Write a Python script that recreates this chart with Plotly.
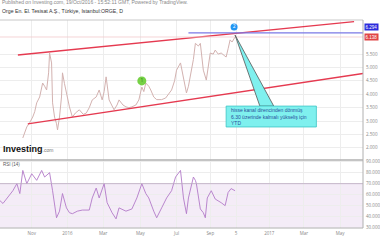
import plotly.graph_objects as go

# ---------------- data ----------------
bar = [23, 25, 27, 30, 33, 35, 37, 40, 43, 45, 47, 49, 50, 52, 53, 55, 57, 58, 60, 62,
       63, 65, 67, 70, 73, 76, 80, 84, 87, 90, 93, 97, 100, 103, 105, 107, 110, 113, 115, 118,
       120, 124, 127, 130, 133, 137, 140, 143, 145, 147, 150, 152, 155, 158, 160, 163, 167, 170, 173, 176,
       178, 182, 185, 188, 190, 192, 195, 197, 200, 202, 205, 208, 210, 212, 215, 217, 220, 223, 226, 228,
       230, 232, 234, 237]
price = [2.37, 2.55, 2.78, 2.95, 3.15, 3.35, 3.68, 3.90, 4.42, 4.30, 4.16, 4.80, 5.54, 5.17, 3.68, 3.15, 2.90, 2.67, 3.15, 3.90,
         4.80, 4.40, 4.05, 3.53, 3.15, 3.30, 3.42, 3.25, 3.30, 3.50, 3.79, 3.90, 4.16, 3.79, 4.10, 4.65, 3.79, 3.60, 3.42, 3.60,
         3.79, 3.60, 3.53, 3.50, 3.53, 3.60, 3.79, 4.27, 4.10, 4.42, 4.30, 4.16, 3.90, 3.80, 3.79, 3.80, 3.86, 4.00, 4.16, 4.50,
         4.90, 5.17, 4.53, 4.05, 4.30, 4.65, 5.30, 5.90, 5.80, 5.90, 4.90, 4.53, 5.00, 5.54, 5.50, 5.65, 5.50, 5.54, 5.45, 5.39,
         5.70, 6.03, 5.95, 6.138]

rsi_bar = [0, 3, 13, 17, 20, 23, 27, 32, 37, 42, 45, 50, 53, 57, 60, 63, 67, 70, 73, 78,
           83, 90, 93, 97, 100, 105, 108, 113, 117, 120, 127, 133, 138, 143, 147, 150, 155, 158, 163, 168,
           173, 177, 182, 185, 188, 190, 195, 197, 198, 202, 205, 207, 209, 213, 217, 220, 223, 227, 230, 233,
           237]
rsi = [54.5, 52, 63.6, 70, 61, 82, 70, 79, 73, 82, 76, 80, 63.6, 39, 45, 61, 48, 43.6, 42.7, 45,
       46, 46, 57, 66, 57, 70, 52.7, 43.6, 38, 48, 45, 47, 57, 70, 61, 57, 45, 39, 48, 57,
       63.6, 76, 82, 57, 42.7, 57, 76, 73, 70, 47, 43.6, 39, 57, 63.6, 56, 54.5, 52.7, 50, 62, 65.5,
       63.6]

upper_channel_x = [18, 357]
upper_channel_y = [5.466, 6.709]
lower_channel_x = [28, 366]
lower_channel_y = [2.892, 4.776]
level_price = 6.294
last_price = 6.138

tick_pos = [32, 68, 104, 141.5, 178, 212, 238, 271.5, 306.5, 343]
tick_text = ["Nov", "2016", "Mar", "May", "Jul", "Sep", "5", "2017", "Mar", "May"]
price_ticks = [2.0, 2.5, 3.0, 3.5, 4.0, 4.5, 5.0, 5.5]
rsi_ticks = [30, 40, 50, 60, 70, 80, 90]

note = "hisse kanal direncinden dönmüş<br>6.30 üzerinde kalmalı yükseliş için<br>YTD"

# ---------------- figure ----------------
XR = [0, 366]
grid = "#ededed"
fig = go.Figure()

fig.add_trace(go.Scatter(x=bar, y=price, mode="lines", line=dict(color="#d3b2b0", width=1),
                         xaxis="x", yaxis="y", hoverinfo="skip"))
fig.add_trace(go.Scatter(x=upper_channel_x, y=upper_channel_y, mode="lines",
                         line=dict(color="#e53a50", width=1.3), xaxis="x", yaxis="y"))
fig.add_trace(go.Scatter(x=lower_channel_x, y=lower_channel_y, mode="lines",
                         line=dict(color="#e53a50", width=1.3), xaxis="x", yaxis="y"))
fig.add_trace(go.Scatter(x=[190, 366], y=[level_price, level_price], mode="lines",
                         line=dict(color="#7b78e6", width=1.3), xaxis="x", yaxis="y"))
fig.add_trace(go.Scatter(x=[0, 366], y=[last_price, last_price], mode="lines",
                         line=dict(color="#f2c9cc", width=0.8), xaxis="x", yaxis="y"))

# callout wedge + box
fig.add_trace(go.Scatter(x=[237, 262, 276, 237], y=[6.21, 3.56, 3.56, 6.21], mode="lines",
                         fill="toself", fillcolor="#7ff0ee", line=dict(color="#555555", width=0.8),
                         xaxis="x", yaxis="y"))

# markers
fig.add_trace(go.Scatter(x=[143], y=[4.50], mode="markers+text", text=["1"],
                         textfont=dict(size=5, color="#2d7a1a"),
                         marker=dict(size=9, color="#76d145"), xaxis="x", yaxis="y"))
fig.add_trace(go.Scatter(x=[236], y=[6.51], mode="markers+text", text=["2"],
                         textfont=dict(size=5, color="white"),
                         marker=dict(size=7, color="#2196f3"), xaxis="x", yaxis="y"))

# RSI
fig.add_trace(go.Scatter(x=rsi_bar, y=rsi, mode="lines", line=dict(color="#b27ac8", width=0.9),
                         xaxis="x2", yaxis="y2"))

shapes = [
    dict(type="rect", xref="x2", yref="y2", x0=XR[0], x1=XR[1], y0=30, y1=70,
         fillcolor="rgba(190,140,210,0.17)", line=dict(width=0), layer="below"),
    dict(type="line", xref="x2", yref="y2", x0=XR[0], x1=XR[1], y0=70, y1=70,
         line=dict(color="#bba8c1", width=0.8)),
    dict(type="line", xref="paper", yref="paper", x0=0, x1=1, y0=0.327, y1=0.327,
         line=dict(color="#b0b0b0", width=1.5)),
    dict(type="line", xref="paper", yref="paper", x0=0, x1=1, y0=0, y1=0,
         line=dict(color="#b0b0b0", width=1)),
    dict(type="line", xref="paper", yref="paper", x0=0, x1=1, y0=1, y1=1,
         line=dict(color="#c8c8c8", width=1)),
    dict(type="line", xref="paper", yref="paper", x0=1, x1=1, y0=0, y1=1,
         line=dict(color="#b0b0b0", width=1)),
    dict(type="rect", xref="x", yref="y", x0=228, x1=319, y0=2.78, y1=3.56,
         fillcolor="#7ff0ee", line=dict(color="#3cc4c4", width=0.8)),
]

annotations = [
    dict(xref="paper", yref="paper", x=0, y=1.086, xanchor="left", yanchor="middle", showarrow=False,
         text="Published on Investing.com, 19/Oct/2016 - 15:52:11 GMT, Powered by TradingView.",
         font=dict(size=5, color="#888888", family="Arial")),
    dict(xref="paper", yref="paper", x=0, y=1.045, xanchor="left", yanchor="middle", showarrow=False,
         text="Orge En. El. Tesisat A.Ş., Türkiye, Istanbul:ORGE, D",
         font=dict(size=5.2, color="#333333", family="Arial")),
    dict(xref="paper", yref="paper", x=0.003, y=0.345, xanchor="left", yanchor="bottom", showarrow=False,
         text="<b>Investing</b><span style='font-size:5px;color:#777'>.com</span>",
         font=dict(size=9, color="#111111", family="Arial")),
    dict(xref="paper", yref="paper", x=0.003, y=0.305, xanchor="left", yanchor="middle", showarrow=False,
         text="RSI (14)", font=dict(size=4.5, color="#555555", family="Arial")),
    dict(xref="x", yref="y", x=231, y=3.17, xanchor="left", yanchor="middle", showarrow=False, align="left",
         text=note, font=dict(size=5, color="#2a4f9a", family="Arial")),
    dict(xref="paper", yref="y", x=1.003, y=6.50, xanchor="left", yanchor="middle", showarrow=False,
         text="6.294", bgcolor="#2b2bdc", font=dict(size=4.5, color="white", family="Arial"), borderpad=0.5),
    dict(xref="paper", yref="y", x=1.003, y=6.138, xanchor="left", yanchor="middle", showarrow=False,
         text="6.138", bgcolor="#e04545", font=dict(size=4.5, color="white", family="Arial"), borderpad=0.5),
]

for a in annotations:
    fig.add_annotation(**a)

fig.update_layout(
    width=380, height=240, margin=dict(l=0, r=14, t=20, b=12),
    paper_bgcolor="white", plot_bgcolor="white", showlegend=False,
    shapes=shapes,
    xaxis=dict(domain=[0, 1], range=XR, anchor="y", showticklabels=False, tickvals=tick_pos,
               showgrid=True, gridcolor=grid, gridwidth=0.8, zeroline=False, showline=False, ticks=""),
    yaxis=dict(domain=[0.327, 1], range=[1.548, 6.772], side="right", tickvals=price_ticks,
               ticktext=["%.3f" % v for v in price_ticks], tickfont=dict(size=4.5, color="#888888"),
               showgrid=True, gridcolor=grid, gridwidth=0.8, zeroline=False, ticks="", ticklabelstandoff=2),
    xaxis2=dict(domain=[0, 1], range=XR, anchor="y2", tickvals=tick_pos, ticktext=tick_text,
                tickfont=dict(size=4.5, color="#888888"), showgrid=True, gridcolor=grid, gridwidth=0.8,
                zeroline=False, ticks="", ticklabelstandoff=1),
    yaxis2=dict(domain=[0, 0.327], range=[29.7, 91.5], side="right", tickvals=rsi_ticks,
                ticktext=["%.3f" % v for v in rsi_ticks], tickfont=dict(size=4.5, color="#888888"),
                showgrid=True, gridcolor=grid, gridwidth=0.8, zeroline=False, ticks="", ticklabelstandoff=2),
)

fig.write_html("out.html")
